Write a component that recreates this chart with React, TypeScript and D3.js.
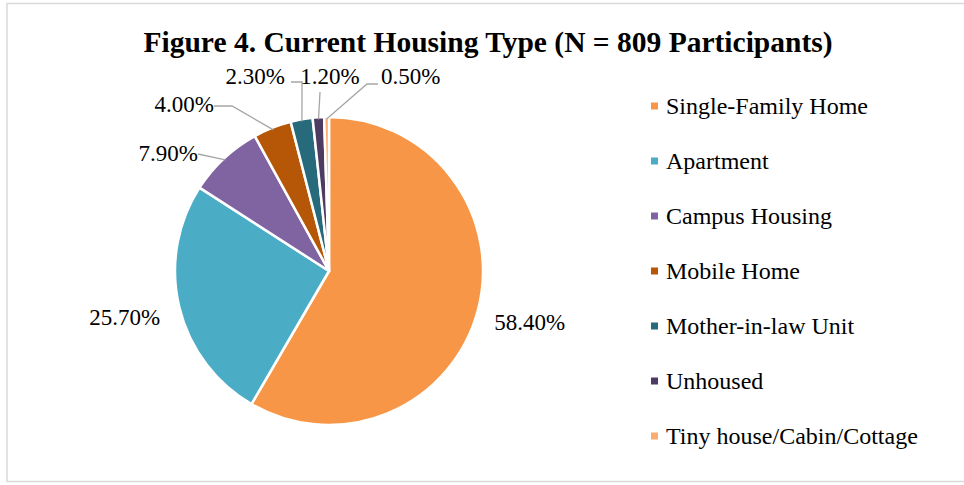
import React from "react";
import * as d3 from "d3";

const categories = [
  "Single-Family Home",
  "Apartment",
  "Campus Housing",
  "Mobile Home",
  "Mother-in-law Unit",
  "Unhoused",
  "Tiny house/Cabin/Cottage",
];
const values = [58.4, 25.7, 7.9, 4.0, 2.3, 1.2, 0.5];
const labels = ["58.40%", "25.70%", "7.90%", "4.00%", "2.30%", "1.20%", "0.50%"];
const colors = ["#F79646", "#4BACC6", "#8064A2", "#B65708", "#276A7C", "#4D3B62", "#F9AD70"];
const title = "Figure 4. Current Housing Type (N = 809 Participants)";

// label layout relative to pie centre (layout, not data)
const labelLayout: any[] = [
  { mode: "radial", r: 208 },
  { mode: "radial", r: 210 },
  { mode: "leader", tx: -131, ty: -118, anchor: "end", lineStart: [-131, -117], elbow: null },
  { mode: "leader", tx: -115, ty: -167, anchor: "end", lineStart: [-115, -165], elbow: [-97, -165] },
  { mode: "leader", tx: -44, ty: -195, anchor: "end", lineStart: [-38, -189], elbow: [-27, -189] },
  { mode: "leader", tx: 1, ty: -195, anchor: "middle", lineStart: null, elbow: [-9, -179] },
  { mode: "leader", tx: 52, ty: -195, anchor: "start", lineStart: [49, -187], elbow: [38, -187] },
];

export default function App() {
  const W = 964;
  const H = 485;
  const cx = 329;
  const cy = 271;
  const R = 154;

  const pie = d3
    .pie<number>()
    .sort(null)
    .value((d) => d)
    .startAngle(0)
    .endAngle(2 * Math.PI);
  const arcs = pie(values);
  const arcGen = d3.arc<d3.PieArcDatum<number>>().innerRadius(0).outerRadius(R);

  const legendY = d3
    .scalePoint<string>()
    .domain(categories)
    .range([106, 436]);

  const font = "Liberation Serif, Times New Roman, serif";
  const ts = { fontFamily: font } as React.CSSProperties;

  return (
    <svg
      width={W}
      height={H}
      style={{ position: "absolute", left: 0, top: 0, background: "#fff" }}
    >
      <rect x={7} y={3.5} width={W} height={478} fill="#fff" stroke="#D9D9D9" strokeWidth={1.5} />
      <text x={488} y={52} textAnchor="middle" fontSize={29.5} fontWeight="bold" fill="#000" style={ts}>
        {title}
      </text>
      <g transform={`translate(${cx},${cy})`}>
        {arcs.map((a, i) => (
          <path key={i} d={arcGen(a) || ""} fill={colors[i]} stroke="#fff" strokeWidth={2.5} strokeLinejoin="round" />
        ))}
        {arcs.map((a, i) => {
          const L = labelLayout[i];
          const mid = (a.startAngle + a.endAngle) / 2;
          if (L.mode === "radial") {
            const [x, y] = d3.pointRadial(mid, L.r);
            return (
              <text key={"l" + i} x={x} y={y - 3} dy="0.35em" textAnchor="middle" fontSize={23} fill="#000" style={ts}>
                {labels[i]}
              </text>
            );
          }
          const [sx, sy] = d3.pointRadial(mid, R - 2);
          const pts: [number, number][] = [[sx, sy]];
          if (L.elbow) pts.push(L.elbow);
          if (L.lineStart) pts.push(L.lineStart);
          const line = d3.line()(pts) || "";
          return (
            <g key={"l" + i}>
              <path d={line} fill="none" stroke="#A6A6A6" strokeWidth={1.3} />
              <text x={L.tx} y={L.ty} dy="0.35em" textAnchor={L.anchor} fontSize={23} fill="#000" style={ts}>
                {labels[i]}
              </text>
            </g>
          );
        })}
      </g>
      <g>
        {categories.map((c, i) => (
          <g key={c} transform={`translate(651,${legendY(c)})`}>
            <rect x={0} y={-3.5} width={7} height={7} fill={colors[i]} />
            <text x={15} y={0} dy="0.33em" fontSize={24} fill="#000" style={ts}>
              {c}
            </text>
          </g>
        ))}
      </g>
    </svg>
  );
}
